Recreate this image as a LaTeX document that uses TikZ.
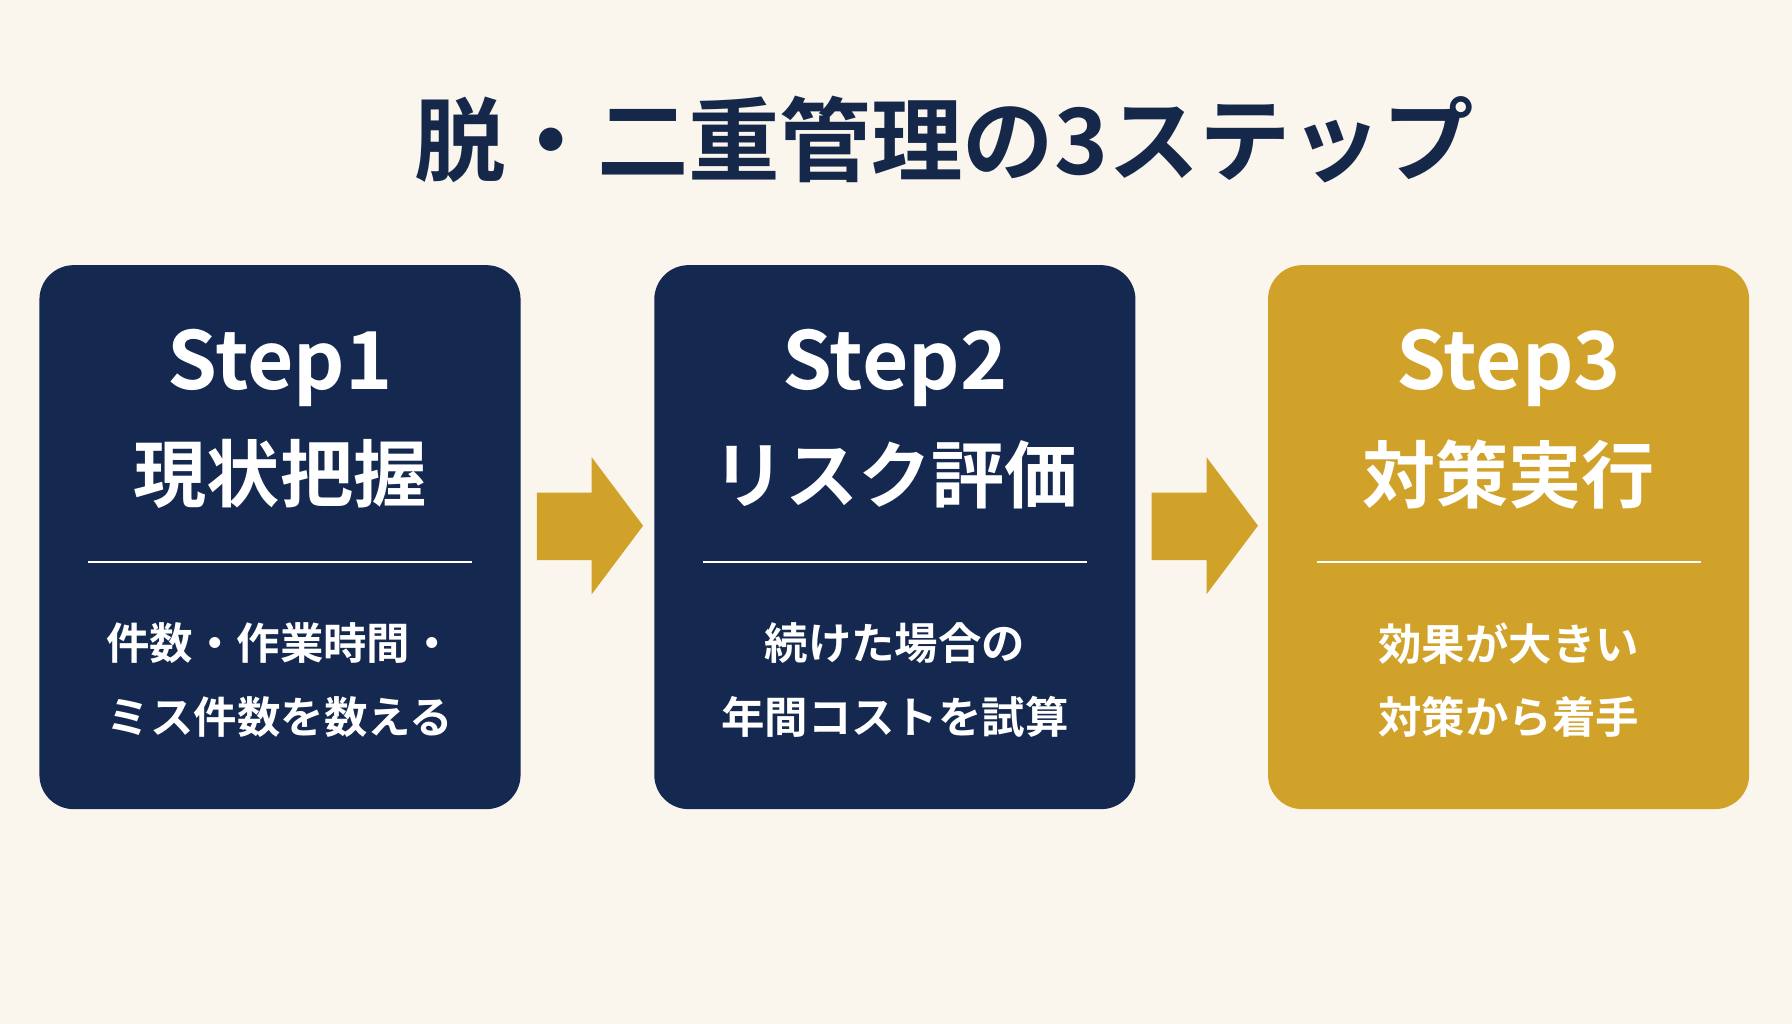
\documentclass[tikz,border=0pt]{standalone}
\usepackage{fontspec}
\usetikzlibrary{calc}
\newfontfamily\jp{Noto Sans CJK JP Bold}[BoldFont={Noto Sans CJK JP Black}]
\begin{document}
\begin{tikzpicture}[x=1pt,y=-1pt,
  box/.style={rounded corners=30pt,minimum width=421pt,minimum height=476pt,inner sep=0pt},
  stp/.style={font=\jp\fontsize{70}{70}\selectfont,text=white},
  ttl/.style={font=\jp\fontsize{64}{64}\selectfont,text=white},
  bdy/.style={font=\jp\fontsize{38}{64}\selectfont,text=white,align=center},
  arr/.style={fill=gold}]
\definecolor{bg}{HTML}{FAF6EE}
\definecolor{navy}{HTML}{142850}
\definecolor{gold}{HTML}{D1A22A}
\definecolor{tnavy}{HTML}{16284A}
\fill[bg] (0,0) rectangle (1568,896);
\useasboundingbox (0,0) rectangle (1568,896);
\node[font=\jp\fontsize{80}{80}\selectfont,text=tnavy] (title) at (826,122) {脱・二重管理の3ステップ};
\node[box,fill=navy] (b1) at (245,470) {};
\node[box,fill=navy] (b2) at (783,470) {};
\node[box,fill=gold] (b3) at (1320,470) {};
\foreach \b/\s/\t/\d in {b1/Step1/現状把握/{件数・作業時間・\\ミス件数を数える},
  b2/Step2/リスク評価/{続けた場合の\\年間コストを試算},
  b3/Step3/対策実行/{効果が大きい\\対策から着手}}{
  \node[stp] (\b s) at ($(\b.center)+(0,-148)$) {\s};
  \node[ttl] (\b t) at ($(\b.center)+(0,-55)$) {\t};
  \draw[white,line width=1.5pt] ($(\b.center)+(-168,22)$) -- ($(\b.center)+(168,22)$);
  \node[bdy] (\b d) at ($(\b.center)+(0,125)$) {\d};
}
\foreach \b in {b1,b2}{
\fill[arr] ($(\b.east)+(14,-39)$) -- ($(\b.east)+(62,-39)$) -- ($(\b.east)+(62,-70)$) -- ($(\b.east)+(107,-10)$) -- ($(\b.east)+(62,50)$) -- ($(\b.east)+(62,20)$) -- ($(\b.east)+(14,20)$) -- cycle;
}
\end{tikzpicture}
\end{document}
